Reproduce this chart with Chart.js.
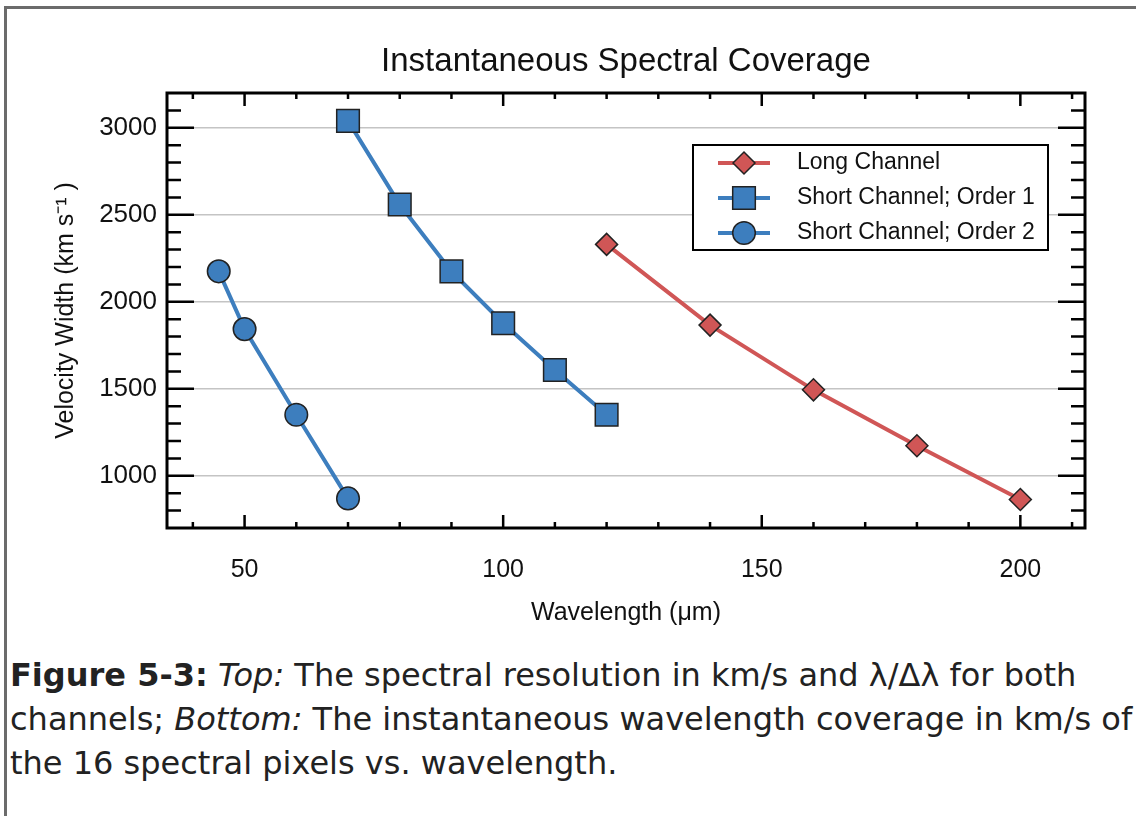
<!DOCTYPE html>
<html>
<head>
<meta charset="utf-8">
<script src="https://cdn.jsdelivr.net/npm/chart.js@4/dist/chart.umd.min.js"></script>
<style>
  body { margin: 0; background: #fff; }
  #frame {
    position: absolute; left: 4px; top: 6px; width: 1132px; height: 810px;
    border-top: 3px solid #6b6b6b; border-left: 3px solid #6b6b6b;
  }
  #chart { position: absolute; left: 0; top: 0; }
  #caption {
    position: absolute; left: 10px; top: 653px; white-space: nowrap;
    font-family: "DejaVu Sans", sans-serif; font-size: 32px; line-height: 44px;
    color: #222;
  }
</style>
</head>
<body>
<div id="frame"></div>
<canvas id="chart" width="1136" height="640"></canvas>
<div id="caption">
  <b>Figure 5-3:</b> <i>Top:</i> The spectral resolution in km/s and λ/Δλ for both<br>
  channels; <i>Bottom:</i> The instantaneous wavelength coverage in km/s of<br>
  the 16 spectral pixels vs. wavelength.
</div>
<script>
// data
var longWave = [120, 140, 160, 180, 200];
var longVel = [2330, 1866, 1494, 1173, 864];
var short1Wave = [70, 80, 90, 100, 110, 120];
var short1Vel = [3040, 2559, 2175, 1877, 1608, 1351];
var short2Wave = [45, 50, 60, 70];
var short2Vel = [2175, 1843, 1351, 870];

var xTicks = [50, 100, 150, 200];
var yTicks = [1000, 1500, 2000, 2500, 3000];

var RED = 'rgb(208, 86, 86)';
var BLUE = 'rgb(61, 126, 190)';
var FONT = 'Liberation Sans, Arial, sans-serif';

function toPoints(xs, ys) {
    var pts = [];
    for (var i = 0; i < xs.length; i++) {
        pts.push({ x: xs[i], y: ys[i] });
    }
    return pts;
}

// IDL style box with ticks pointing inward on all four sides
var boxTicks = {
    id: 'boxTicks',
    beforeDatasetsDraw: function(chart) {
        var ctx = chart.ctx;
        var a = chart.chartArea;
        var xs = chart.scales.x;
        var ys = chart.scales.y;
        ctx.save();
        ctx.strokeStyle = '#000';
        ctx.lineWidth = 2.5;
        ctx.beginPath();
        for (var v = 40; v <= xs.max; v += 10) {
            var px = xs.getPixelForValue(v);
            var len = (v % 50 === 0) ? 13 : 6;
            ctx.moveTo(px, a.bottom); ctx.lineTo(px, a.bottom - len);
            ctx.moveTo(px, a.top); ctx.lineTo(px, a.top + len);
        }
        for (var w = 800; w < ys.max; w += 100) {
            var py = ys.getPixelForValue(w);
            var l2 = (w % 500 === 0) ? 27 : 14;
            ctx.moveTo(a.left, py); ctx.lineTo(a.left + l2, py);
            ctx.moveTo(a.right, py); ctx.lineTo(a.right - l2, py);
        }
        ctx.stroke();
        ctx.lineWidth = 3;
        ctx.strokeRect(a.left, a.top, a.right - a.left, a.bottom - a.top);
        ctx.restore();
    }
};

// legend box in the upper right of the plot
var boxLegend = {
    id: 'boxLegend',
    afterDatasetsDraw: function(chart) {
        var ctx = chart.ctx;
        var left = 693, top = 145, width = 355, height = 105;
        ctx.save();
        ctx.fillStyle = '#fff';
        ctx.fillRect(left, top, width, height);
        ctx.strokeStyle = '#000';
        ctx.lineWidth = 2;
        ctx.strokeRect(left, top, width, height);
        chart.data.datasets.forEach(function(ds, i) {
            var y = top + 18 + i * 35;
            ctx.strokeStyle = ds.borderColor;
            ctx.lineWidth = ds.borderWidth;
            ctx.beginPath();
            ctx.moveTo(718, y); ctx.lineTo(770, y);
            ctx.stroke();
            ctx.fillStyle = ds.pointBackgroundColor;
            ctx.strokeStyle = ds.pointBorderColor;
            ctx.lineWidth = ds.pointBorderWidth;
            Chart.helpers.drawPoint(ctx, { pointStyle: ds.pointStyle, radius: ds.pointRadius, rotation: 0, borderWidth: ds.pointBorderWidth }, 744, y);
            ctx.fillStyle = '#111';
            ctx.font = '23px ' + FONT;
            ctx.textBaseline = 'middle';
            ctx.textAlign = 'left';
            ctx.fillText(ds.label, 797, y);
        });
        ctx.restore();
    }
};

var ctx = document.getElementById('chart').getContext('2d');
window.spectralChart = new Chart(ctx, {
    type: 'line',
    data: {
        datasets: [{
            label: 'Long Channel',
            data: toPoints(longWave, longVel),
            borderColor: RED,
            borderWidth: 4,
            pointStyle: 'rectRot',
            pointRadius: 11,
            pointBackgroundColor: RED,
            pointBorderColor: '#222',
            pointBorderWidth: 1.5
        }, {
            label: 'Short Channel; Order 1',
            data: toPoints(short1Wave, short1Vel),
            borderColor: BLUE,
            borderWidth: 4,
            pointStyle: 'rect',
            pointRadius: 16,
            pointBackgroundColor: BLUE,
            pointBorderColor: '#222',
            pointBorderWidth: 1.5
        }, {
            label: 'Short Channel; Order 2',
            data: toPoints(short2Wave, short2Vel),
            borderColor: BLUE,
            borderWidth: 4,
            pointStyle: 'circle',
            pointRadius: 11.3,
            pointBackgroundColor: BLUE,
            pointBorderColor: '#222',
            pointBorderWidth: 1.5
        }]
    },
    options: {
        responsive: false,
        animation: false,
        devicePixelRatio: 1,
        layout: { padding: { left: 0, right: 51, top: 0, bottom: 0 } },
        plugins: {
            legend: { display: false },
            tooltip: { enabled: false },
            title: {
                display: true,
                fullSize: false,
                text: 'Instantaneous Spectral Coverage',
                color: '#111',
                font: { family: FONT, size: 33, weight: 'normal' },
                padding: { top: 42, bottom: 11.4 }
            }
        },
        scales: {
            x: {
                type: 'linear',
                min: 35,
                max: 212.5,
                afterBuildTicks: function(scale) {
                    scale.ticks = xTicks.map(function(v) { return { value: v }; });
                },
                afterFit: function(scale) { scale.height = 112; },
                grid: { display: false },
                border: { display: false },
                ticks: {
                    color: '#111',
                    padding: 19,
                    maxRotation: 0,
                    font: { family: FONT, size: 25 },
                    callback: function(value) { return String(value); }
                },
                title: {
                    display: true,
                    text: 'Wavelength (μm)',
                    color: '#111',
                    font: { family: FONT, size: 25 },
                    padding: { top: 0, bottom: 12 }
                }
            },
            y: {
                min: 700,
                max: 3200,
                afterBuildTicks: function(scale) {
                    scale.ticks = yTicks.map(function(v) { return { value: v }; });
                },
                afterFit: function(scale) { scale.width = 167; },
                grid: { color: '#c4c4c4', lineWidth: 1.5, drawTicks: false },
                border: { display: false },
                ticks: {
                    color: '#111',
                    padding: 10,
                    font: { family: FONT, size: 26 },
                    callback: function(value) { return String(value); }
                },
                title: {
                    display: true,
                    text: 'Velocity Width (km s⁻¹ )',
                    color: '#111',
                    font: { family: FONT, size: 25 },
                    padding: { top: 51, bottom: 0 }
                }
            }
        }
    },
    plugins: [boxTicks, boxLegend]
});
</script>
</body>
</html>
